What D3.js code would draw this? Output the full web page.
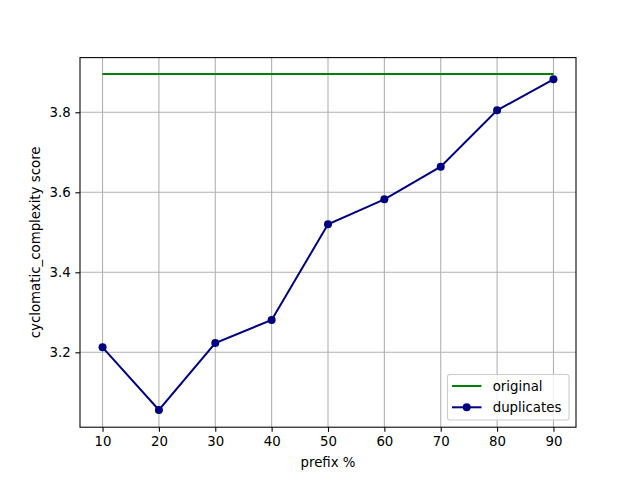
<!DOCTYPE html>
<html><head><meta charset="utf-8">
<script src="https://cdn.jsdelivr.net/npm/d3@7"></script>
<style>body{margin:0;background:#fff}svg{display:block;font-family:"DejaVu Sans",sans-serif}</style>
</head><body>
<script>
const prefixes = [10,20,30,40,50,60,70,80,90];
const duplicates = [3.2125,3.056,3.223,3.281,3.52,3.5825,3.664,3.805,3.8825];
const original = [3.8955,3.8955,3.8955,3.8955,3.8955,3.8955,3.8955,3.8955,3.8955];
const xTicks = [10,20,30,40,50,60,70,80,90];
const yTicks = [3.2,3.4,3.6,3.8];

const W=640,H=480, L=80, R=576, T=57.6, B=427.2;
const svg=d3.select("body").append("svg").attr("width",W).attr("height",H);
const x=d3.scaleLinear().domain([6,94]).range([L,R]);
const y=d3.scaleLinear().domain([3.0128,3.9367]).range([B,T]);

// grid
const g=svg.append("g");
g.selectAll(".gx").data(xTicks).enter().append("line")
 .attr("x1",d=>x(d)).attr("x2",d=>x(d)).attr("y1",T).attr("y2",B)
 .attr("stroke","#b0b0b0").attr("stroke-width",1.07);
g.selectAll(".gy").data(yTicks).enter().append("line")
 .attr("x1",L).attr("x2",R).attr("y1",d=>y(d)).attr("y2",d=>y(d))
 .attr("stroke","#b0b0b0").attr("stroke-width",1.07);

// axes
const xa=svg.append("g").attr("transform",`translate(0,${B})`)
 .call(d3.axisBottom(x).tickValues(xTicks).tickSize(4.67).tickPadding(4.67).tickFormat(d3.format("d")));
const ya=svg.append("g").attr("transform",`translate(${L},0)`)
 .call(d3.axisLeft(y).tickValues(yTicks).tickSize(4.67).tickPadding(4.67).tickFormat(d3.format(".1f")));
[xa,ya].forEach(a=>{a.select(".domain").remove();
 a.selectAll("text").attr("font-size","13.33px").attr("font-family","DejaVu Sans").attr("fill","#000");
 a.selectAll("line").attr("stroke","#000").attr("stroke-width",1.07);});

// lines
const line=d3.line().x((d,i)=>x(prefixes[i])).y(d=>y(d));
svg.append("path").datum(original).attr("d",line).attr("fill","none").attr("stroke","#008000").attr("stroke-width",2);
svg.append("path").datum(duplicates).attr("d",line).attr("fill","none").attr("stroke","#000080").attr("stroke-width",2);
svg.selectAll(".pt").data(duplicates).enter().append("circle")
 .attr("cx",(d,i)=>x(prefixes[i])).attr("cy",d=>y(d)).attr("r",4).attr("fill","#000080");

// frame
svg.append("rect").attr("x",L).attr("y",T).attr("width",R-L).attr("height",B-T)
 .attr("fill","none").attr("stroke","#000").attr("stroke-width",1.07);

// labels
svg.append("text").attr("x",(L+R)/2).attr("y",467).attr("text-anchor","middle")
 .attr("font-size","13.33px").text("prefix %");
svg.append("text").attr("transform",`translate(40,${(T+B)/2}) rotate(-90)`).attr("text-anchor","middle")
 .attr("font-size","13.33px").text("cyclomatic_complexity score");

// legend
const lg=svg.append("g");
lg.append("rect").attr("x",447.5).attr("y",374.5).attr("width",121.5).attr("height",45.5).attr("rx",2.5)
 .attr("fill","#fff").attr("fill-opacity",0.8).attr("stroke","#cccccc").attr("stroke-width",1.07);
const items=[{name:"original",c:"#008000",m:false},{name:"duplicates",c:"#000080",m:true}];
items.forEach((it,i)=>{
 const yy=386+i*21.3;
 lg.append("line").attr("x1",452).attr("x2",481.5).attr("y1",yy).attr("y2",yy).attr("stroke",it.c).attr("stroke-width",2);
 if(it.m) lg.append("circle").attr("cx",466.7).attr("cy",yy).attr("r",4).attr("fill",it.c);
 lg.append("text").attr("x",492.7).attr("y",yy+4.7).attr("font-size","13.33px").text(it.name);
});
</script>
</body></html>
